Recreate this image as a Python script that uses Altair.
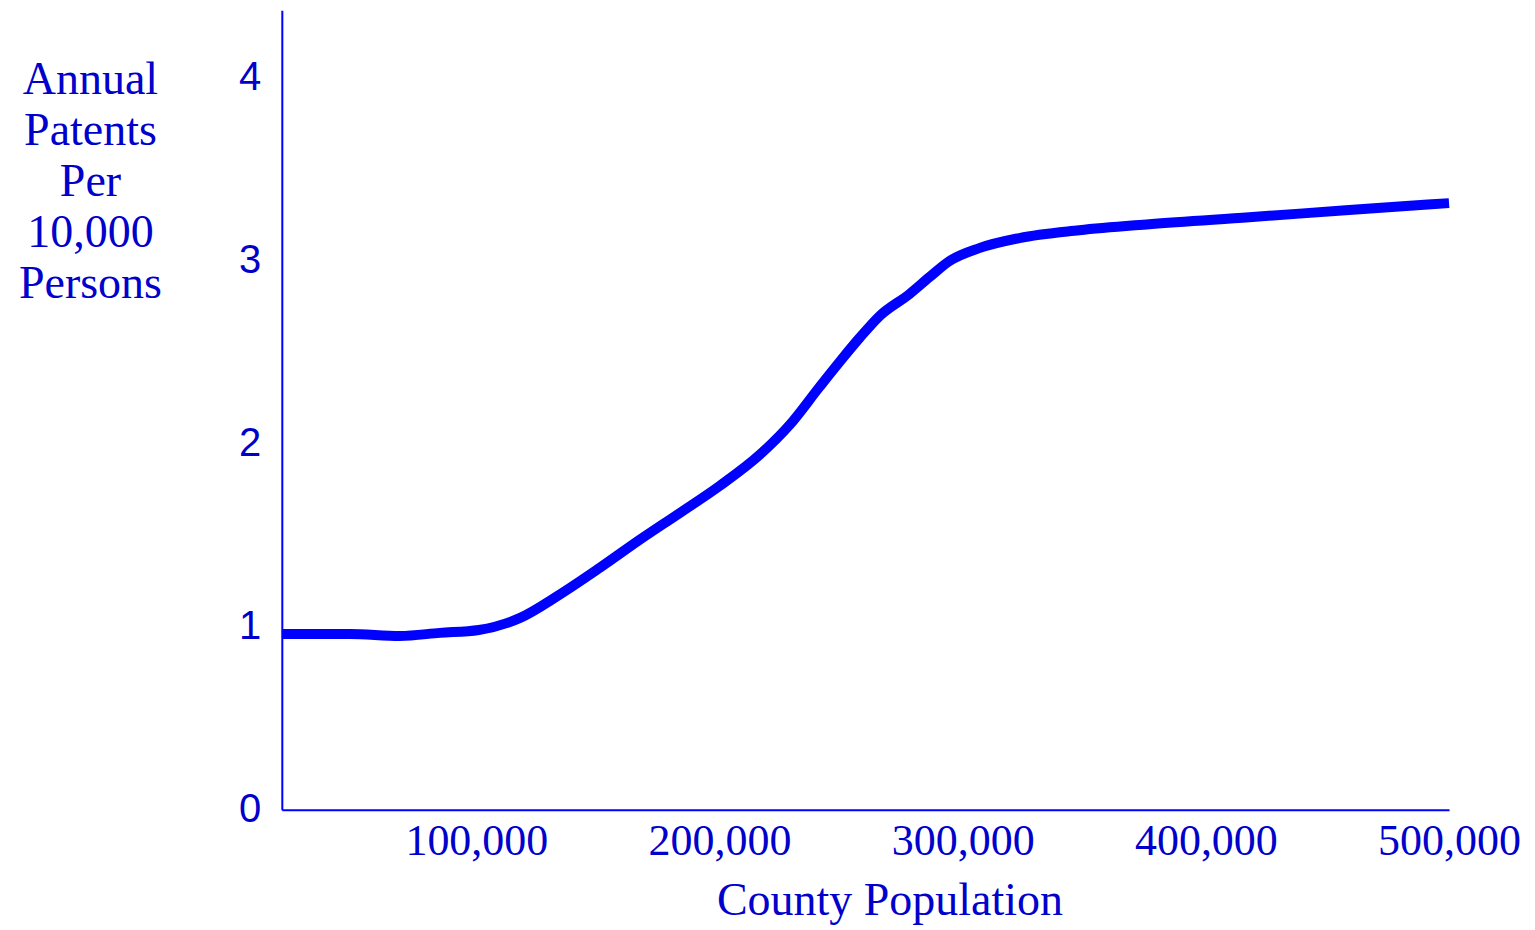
import altair as alt
import pandas as pd

population = [20000, 48000, 68500, 85000, 101000, 118000, 134000, 150700, 167100,
              183600, 200000, 216400, 228800, 241100, 249300, 257500, 265800,
              278100, 286300, 294500, 306800, 323300, 347900, 376700, 417800,
              458900, 500000]
patents = [0.961, 0.961, 0.950, 0.967, 0.983, 1.049, 1.174, 1.322, 1.475,
           1.622, 1.770, 1.939, 2.103, 2.311, 2.447, 2.578, 2.699,
           2.819, 2.911, 2.999, 3.070, 3.125, 3.168, 3.201, 3.239,
           3.278, 3.316]
x_ticks = [100000, 200000, 300000, 400000, 500000]
y_ticks = [0, 1, 2, 3, 4]
y_title = ["Annual", "Patents", "Per", "10,000", "Persons"]
x_title = "County Population"

df = pd.DataFrame({"pop": population, "rate": patents})

TEXT = "#0000cc"
AXIS = "#0000ff"
SERIF = "Liberation Serif"
SANS = "Liberation Sans"

chart = alt.Chart(df).mark_line(
    color="#0000ff", strokeWidth=10, interpolate="monotone", strokeCap="butt"
).encode(
    x=alt.X("pop:Q",
            scale=alt.Scale(domain=[20000, 500000], nice=False, zero=False),
            axis=alt.Axis(values=x_ticks, format=",d", title=x_title,
                          ticks=False, grid=False, domainColor=AXIS, domainWidth=2,
                          labelFont=SERIF, labelFontSize=44, labelColor=TEXT,
                          labelPadding=10, labelOverlap=False, labelFlush=False,
                          titleFont=SERIF, titleFontSize=46, titleColor=TEXT,
                          titleFontWeight="normal", titleX=608, titleY=105,
                          titleAlign="center", titleBaseline="alphabetic")),
    y=alt.Y("rate:Q",
            scale=alt.Scale(domain=[0, 4.37], nice=False, zero=True),
            axis=alt.Axis(values=y_ticks, format="d", title=y_title,
                          ticks=False, grid=False, domainColor=AXIS, domainWidth=2,
                          labelFont=SANS, labelFontSize=40, labelColor=TEXT,
                          labelPadding=21, labelOverlap=False, labelFlush=False,
                          titleFont=SERIF, titleFontSize=46, titleColor=TEXT,
                          titleFontWeight="normal", titleAngle=0, titleX=-192, titleY=83,
                          titleAlign="center", titleBaseline="alphabetic",
                          titleLineHeight=51)),
).properties(
    width=1168, height=800,
    background="white",
    autosize=alt.AutoSizeParams(type="none"),
    padding={"left": 274, "top": 2, "right": 78, "bottom": 118},
).configure_view(stroke=None, strokeWidth=0)

chart.save("out.html", embed_options={"renderer": "svg", "actions": False})
